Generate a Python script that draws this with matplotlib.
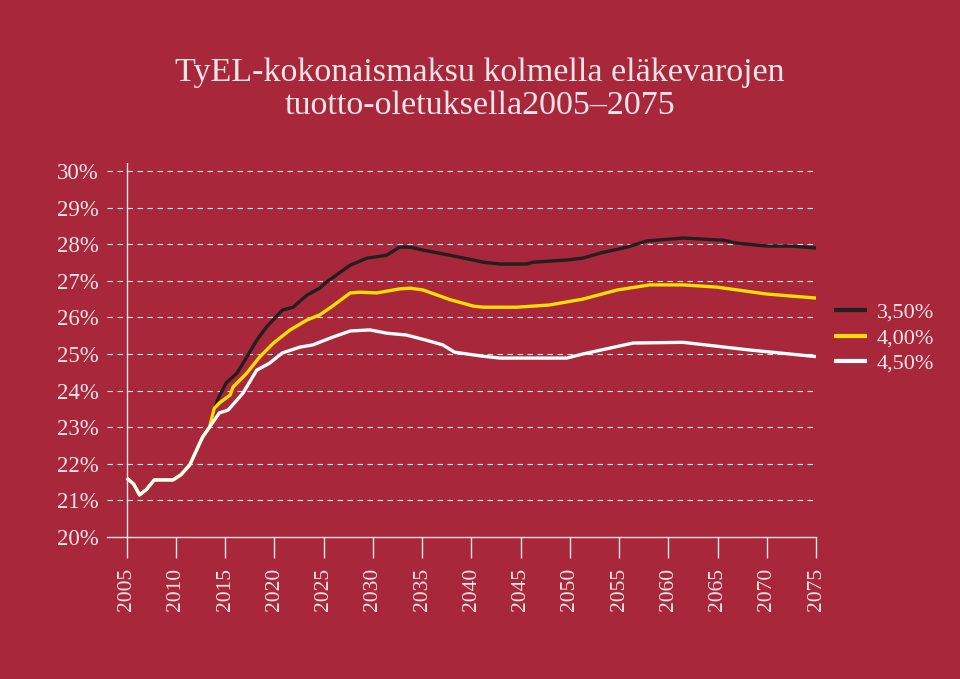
import matplotlib.pyplot as plt
import numpy as np

# common start (all three scenarios overlap until ~2013)
years_common = [2005, 2005.7, 2006.3, 2007, 2007.8, 2009.7, 2010.5, 2011.4, 2012.1, 2012.7, 2013.4]
vals_common = [21.61, 21.45, 21.15, 21.3, 21.56, 21.56, 21.7, 21.97, 22.38, 22.73, 23.0]

years_350 = [2014.2, 2015.1, 2016.2, 2017.2, 2018.2, 2019.2, 2020.8, 2021.9, 2023.3, 2024.6,
             2025.3, 2027.7, 2029.4, 2031.4, 2032.7, 2033.8, 2035.1, 2036.1, 2037.8, 2040.2,
             2041.2, 2042.9, 2045.6, 2046.3, 2049.7, 2051.3, 2053.1, 2055.8, 2057.8, 2061.5,
             2065.6, 2067.0, 2070.0, 2072.4, 2075]
vals_350 = [23.74, 24.21, 24.48, 24.92, 25.38, 25.74, 26.20, 26.28, 26.61, 26.80,
            26.97, 27.43, 27.62, 27.70, 27.92, 27.92, 27.84, 27.79, 27.70, 27.57,
            27.51, 27.46, 27.46, 27.51, 27.57, 27.62, 27.76, 27.92, 28.09, 28.17,
            28.11, 28.03, 27.95, 27.95, 27.90]

years_400 = [2013.9, 2014.4, 2015.5, 2015.8, 2017.2, 2018.5, 2019.9, 2021.6, 2023.3, 2024.6,
             2025.9, 2027.7, 2028.7, 2030.4, 2032.7, 2033.8, 2035.1, 2037.8, 2040.2, 2041.2,
             2044.6, 2047.9, 2051.3, 2054.8, 2058.1, 2061.5, 2064.9, 2070.0, 2075]
vals_400 = [23.52, 23.66, 23.88, 24.10, 24.48, 24.92, 25.30, 25.66, 25.93, 26.07,
            26.31, 26.67, 26.69, 26.67, 26.78, 26.80, 26.75, 26.49, 26.31, 26.28,
            26.28, 26.34, 26.50, 26.75, 26.89, 26.89, 26.83, 26.64, 26.53]

years_450 = [2014.4, 2015.3, 2016.8, 2018.2, 2019.5, 2020.8, 2022.6, 2023.9, 2025.9, 2027.7,
             2029.7, 2031.4, 2033.4, 2035.4, 2037.1, 2038.3, 2041.2, 2042.9, 2049.7, 2051.3,
             2056.4, 2061.5, 2068.3, 2075]
vals_450 = [23.39, 23.47, 23.93, 24.56, 24.75, 25.03, 25.19, 25.25, 25.46, 25.63,
            25.66, 25.57, 25.52, 25.38, 25.25, 25.05, 24.94, 24.89, 24.89, 25.00,
            25.30, 25.32, 25.11, 24.93]

labels = ["3,50%", "4,00%", "4,50%"]
colors = ["#231F20", "#F7E000", "#FFFFFF"]

bg = "#A8273A"
txt = "#F4E6E8"

plt.rcParams['font.family'] = ['Liberation Serif', 'DejaVu Serif']

fig = plt.figure(figsize=(9.6, 6.79), dpi=100, facecolor=bg)
ax = fig.add_axes([0.1115, 0.2091, 0.7385, 0.5508], facecolor=bg)

series = [(years_350, vals_350), (years_400, vals_400), (years_450, vals_450)]
for (yrs, vals), lab, col in zip(series, labels, colors):
    ax.plot(years_common + yrs, vals_common + vals, color=col, lw=2.4, label=lab,
            solid_capstyle='butt')

ax.set_xlim(2003, 2075)
ax.set_ylim(20, 30.22)
ax.set_xticks(np.arange(2005, 2076, 5))
ax.set_xticklabels([str(y) for y in range(2005, 2076, 5)], rotation=90, fontsize=15.5, color=txt)
ax.set_yticks(np.arange(20, 31, 1))
ax.set_yticklabels([f"{v}%" for v in range(20, 31)], fontsize=16.5, color=txt)

for v in range(21, 31):
    ax.axhline(v, color=txt, lw=0.8, ls=(0, (5, 4)), zorder=0)
ax.axvline(2005, color=txt, lw=1.0, zorder=1)

for s in ['top', 'right', 'left']:
    ax.spines[s].set_visible(False)
ax.spines['bottom'].set_color(txt)
ax.spines['bottom'].set_linewidth(1.0)
ax.tick_params(axis='x', direction='out', length=15, width=1.0, color=txt, pad=7)
ax.tick_params(axis='y', length=0, pad=6)

fig.text(0.5, 0.869, "TyEL-kokonaismaksu kolmella eläkevarojen\ntuotto-oletuksella2005–2075",
         ha='center', va='center', fontsize=24.5, color=txt, linespacing=1.12)

leg = ax.legend(loc='center left', bbox_to_anchor=(0.86, 0.502), bbox_transform=fig.transFigure,
                frameon=False, fontsize=16, handlelength=1.45, handletextpad=0.45,
                labelspacing=0.22, borderaxespad=0)
for t in leg.get_texts():
    t.set_color(txt)
for h in leg.get_lines():
    h.set_linewidth(3.0)

fig.savefig("out.png", dpi=100, facecolor=bg)
